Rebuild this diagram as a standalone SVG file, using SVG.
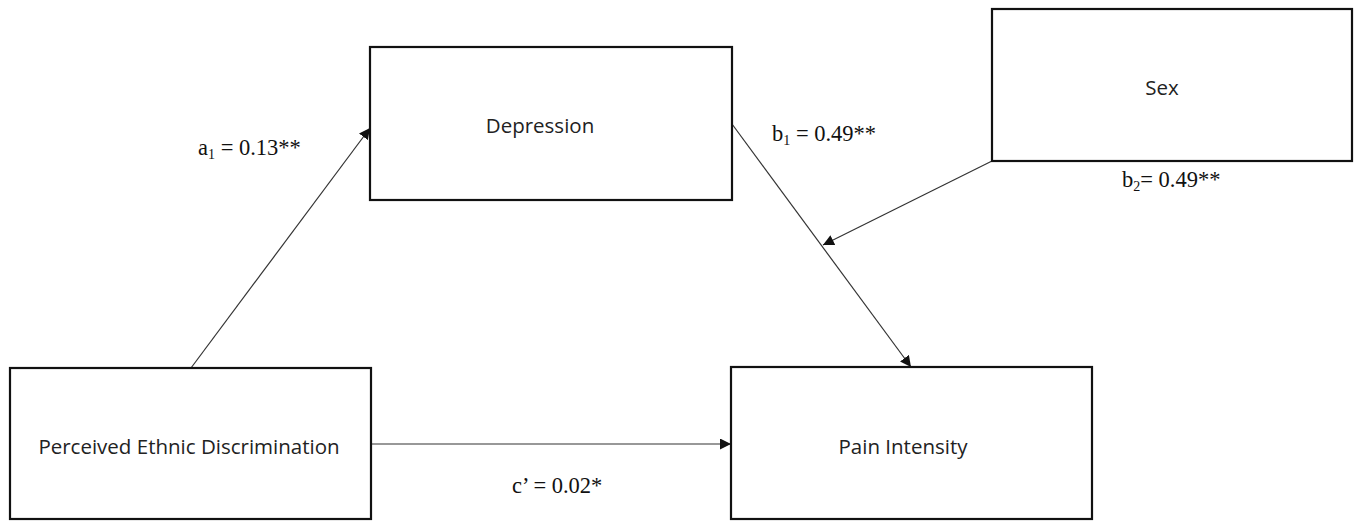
<svg xmlns="http://www.w3.org/2000/svg" width="1360" height="521" viewBox="0 0 1360 521">
<style>
.box{fill:#fff;stroke:#111;stroke-width:2.2}
.nt{font-family:"Open Sans","Liberation Sans",sans-serif;font-size:20.5px;fill:#222;text-anchor:middle}
.lb{font-family:"Liberation Serif",serif;font-size:22.5px;fill:#111}
.sub{font-size:14px}
.cn{stroke:#333;stroke-width:1.2;fill:none;marker-end:url(#ah)}
</style>
<defs>
<marker id="ah" viewBox="0 0 10 10" refX="10" refY="5" markerWidth="11" markerHeight="11" markerUnits="userSpaceOnUse" orient="auto">
<path d="M0,0 L10,5 L0,10 z" fill="#111"/>
</marker>
</defs>
<rect width="1360" height="521" fill="#fff"/>
<g id="connectors">
<line class="cn" x1="191" y1="368" x2="370" y2="128"/>
<line class="cn" x1="732" y1="124" x2="911" y2="367"/>
<line class="cn" x1="992" y1="161" x2="823" y2="245"/>
<line class="cn" x1="371" y1="444" x2="731" y2="444"/>
</g>
<g id="depression"><rect class="box" x="370" y="47" width="362" height="153"/><text class="nt" x="540" y="133">Depression</text></g>
<g id="sex"><rect class="box" x="992" y="9" width="360" height="152"/><text class="nt" x="1162" y="95">Sex</text></g>
<g id="ped"><rect class="box" x="10" y="368" width="361" height="151"/><text class="nt" x="189" y="454">Perceived Ethnic Discrimination</text></g>
<g id="pain"><rect class="box" x="731" y="367" width="361" height="152"/><text class="nt" x="903" y="454">Pain Intensity</text></g>
<g id="labels">
<text class="lb" x="198" y="155">a<tspan class="sub" dy="4">1</tspan><tspan dy="-4"> = 0.13**</tspan></text>
<text class="lb" x="772" y="141">b<tspan class="sub" dy="4">1</tspan><tspan dy="-4"> = 0.49**</tspan></text>
<text class="lb" x="1122" y="187">b<tspan class="sub" dy="4">2</tspan><tspan dy="-4">= 0.49**</tspan></text>
<text class="lb" x="512" y="493">c’ = 0.02*</text>
</g>
</svg>
